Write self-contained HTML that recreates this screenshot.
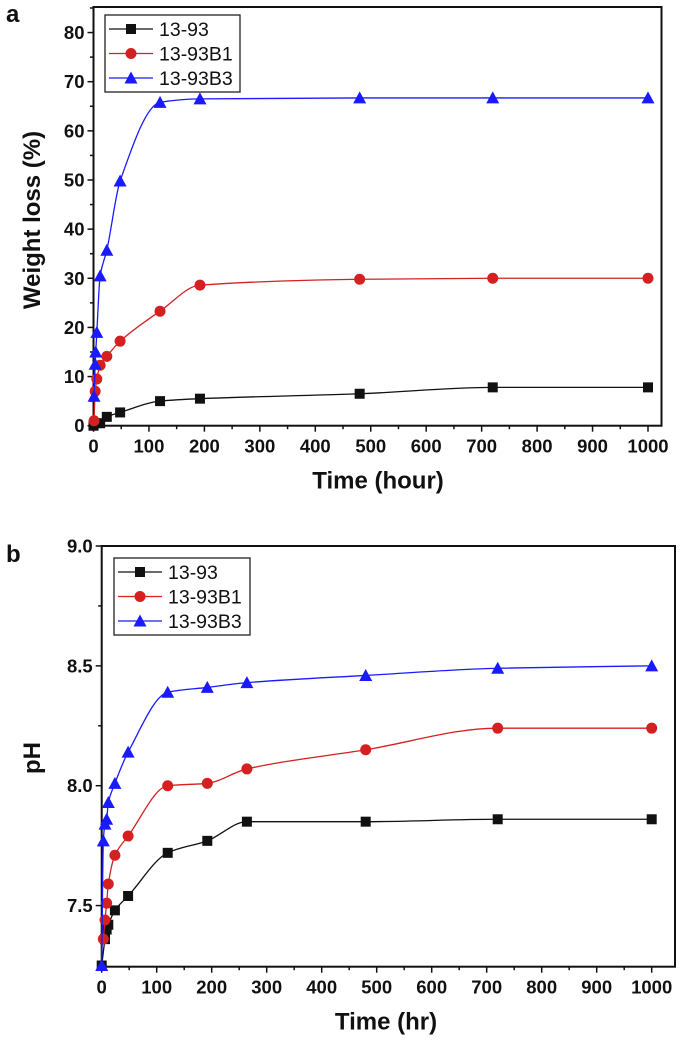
<!DOCTYPE html>
<html><head><meta charset="utf-8"><style>
body{margin:0;background:#fff}
svg{display:block}
text{font-family:"Liberation Sans",Arial,sans-serif;font-weight:bold;fill:#111}
</style></head><body>
<svg id="c" width="686" height="1050"></svg>
<script>
const ticksA=[0,10,20,30,40,50,60,70,80];
const ticksB=[7.5,8.0,8.5,9.0];
const xticks=[0,100,200,300,400,500,600,700,800,900,1000];
const seriesNames=["13-93","13-93B1","13-93B3"];
const colors=["#111","#d42020","#1a1aff"];
const aX0=[0,3,12,24,48,120,192,480,720,1000];
const aY0=[0,0.5,0.5,1.8,2.7,5.0,5.5,6.5,7.8,7.8];
const aX1=[1,3,6,12,24,48,120,192,480,720,1000];
const aY1=[1,7,9.5,12.3,14.1,17.2,23.3,28.6,29.8,30,30];
const aX2=[1,3,4,6,12,24,48,120,192,480,720,1000];
const aY2=[6,12.5,15,19,30.5,35.7,49.8,65.8,66.5,66.7,66.7,66.7];
const bX0=[0,6,9,12,24,48,120,192,264,480,720,1000];
const bY0=[7.25,7.36,7.4,7.42,7.48,7.54,7.72,7.77,7.85,7.85,7.86,7.86];
const bX1=[3,6,9,12,24,48,120,192,264,480,720,1000];
const bY1=[7.36,7.44,7.51,7.59,7.71,7.79,8.0,8.01,8.07,8.15,8.24,8.24];
const bX2=[0,3,6,9,12,24,48,120,192,264,480,720,1000];
const bY2=[7.25,7.77,7.84,7.86,7.93,8.01,8.14,8.39,8.41,8.43,8.46,8.49,8.50];

const svg=document.getElementById('c');const NS="http://www.w3.org/2000/svg";
function mk(t,a,p){const e=document.createElementNS(NS,t);for(const k in a)e.setAttribute(k,a[k]);(p||svg).appendChild(e);return e;}
function txt(s,x,y,size,anchor,p){const e=mk('text',{x:x,y:y,'font-size':size,'text-anchor':anchor||'middle'},p);e.textContent=s;return e;}
function monotonePath(pts){
  const n=pts.length;const d=[],m=[];
  for(let i=0;i<n-1;i++){const dx=pts[i+1][0]-pts[i][0];d.push(dx===0?0:(pts[i+1][1]-pts[i][1])/dx);}
  m[0]=d[0];m[n-1]=d[n-2];
  for(let i=1;i<n-1;i++){m[i]=(d[i-1]*d[i]<=0)?0:2/(1/d[i-1]+1/d[i]);}
  let p='M'+pts[0][0]+','+pts[0][1];
  for(let i=0;i<n-1;i++){const h=(pts[i+1][0]-pts[i][0])/3;
    p+=' C'+(pts[i][0]+h)+','+(pts[i][1]+m[i]*h)+' '+(pts[i+1][0]-h)+','+(pts[i+1][1]-m[i+1]*h)+' '+pts[i+1][0]+','+pts[i+1][1];}
  return p;
}
function panel(cfg){
  const g=mk('g',{});
  
  
  const X=v=>cfg.l+(v-cfg.xmin)/(cfg.xmax-cfg.xmin)*(cfg.x1000-cfg.l);
  const Y=v=>cfg.b-(v-cfg.ymin)/(cfg.ymax-cfg.ymin)*(cfg.b-cfg.t);
  const fr=mk('rect',{x:cfg.l,y:cfg.t,width:cfg.r-cfg.l,height:cfg.b-cfg.t,fill:'none',stroke:'#111','stroke-width':2},g);
  
  xticks.forEach((v,i)=>{const x=X(v);mk('line',{x1:x,x2:x,y1:cfg.b,y2:cfg.b+6,stroke:'#111','stroke-width':1.5},g);
    const xm=X(v+50);if(v<1000)mk('line',{x1:xm,x2:xm,y1:cfg.b,y2:cfg.b+3.5,stroke:'#111','stroke-width':1.5},g);
    const t=txt(String(v),x,cfg.b+27,18.5,'middle',g);});
  cfg.yt.forEach(v=>{const y=Y(v);mk('line',{x1:cfg.l-6,x2:cfg.l,y1:y,y2:y,stroke:'#111','stroke-width':1.5},g);
    const t=txt(cfg.fmt(v),cfg.l-9,y+6.5,18.5,'end',g);});
  cfg.minor.forEach(v=>{const y=Y(v);mk('line',{x1:cfg.l-3.5,x2:cfg.l,y1:y,y2:y,stroke:'#111','stroke-width':1.5},g);});
  const xt=txt(cfg.xlabel,cfg.xlx,cfg.b+63,24,'middle',g);
  const yt=txt(cfg.ylabel,0,0,24,'middle',g);yt.setAttribute('transform','translate('+cfg.ylx+','+cfg.yly+') rotate(-90)');
  
  const pl=txt(cfg.letter,cfg.letx,cfg.lety,24,'start',g);
  cfg.data.forEach((d,si)=>{
    const xs=d[0],ys=d[1];const c=colors[si];
    const pts=xs.map((x,i)=>[X(x),Y(ys[i])]);
    const ln=mk('path',{d:monotonePath(pts),fill:'none',stroke:c,'stroke-width':1.3},g);
    
    pts.forEach(q=>{const m=marker(si,q[0],q[1],g);});
  });
  const lg=mk('g',{},g);
  mk('rect',{x:cfg.lg[0],y:cfg.lg[1],width:cfg.lg[2],height:cfg.lg[3],fill:'#fff',stroke:'#222','stroke-width':1.3},lg);
  seriesNames.forEach((n,i)=>{const y=cfg.lg[1]+14+i*24.5;const e=mk('g',{},lg);
    mk('line',{x1:cfg.lg[0]+4,x2:cfg.lg[0]+48,y1:y,y2:y,stroke:colors[i],'stroke-width':1.3},e);
    marker(i,cfg.lg[0]+26,y,e);
    const t=mk('text',{x:cfg.lg[0]+54,y:y+7,'font-size':19.5,'text-anchor':'start'},e);t.style.fontWeight='normal';t.textContent=n;});
}
function marker(si,x,y,p){
  if(si===0)return mk('rect',{x:x-5,y:y-5,width:10,height:10,fill:colors[0]},p);
  if(si===1)return mk('circle',{cx:x,cy:y,r:5.5,fill:colors[1]},p);
  return mk('polygon',{points:(x-6.5)+','+(y+5.5)+' '+(x+6.5)+','+(y+5.5)+' '+x+','+(y-6.5),fill:colors[2]},p);
}
panel({name:'panel-a-weight-loss',l:93.5,r:661.5,t:7,b:425.7,x1000:648,xmin:0,xmax:1000,ymin:0,ymax:85.2,
  yt:ticksA,minor:[5,15,25,35,45,55,65,75,85].filter(v=>v<85.2),fmt:v=>String(v),
  xlabel:'Time (hour)',xlx:378,ylabel:'Weight loss (%)',ylx:40,yly:220,letter:'a',letx:6,lety:22,
  lg:[105,15,135,77],data:[[aX0,aY0],[aX1,aY1],[aX2,aY2]]});
panel({name:'panel-b-ph',l:101.7,r:675,t:546,b:966.7,x1000:651.7,xmin:0,xmax:1000,ymin:7.245,ymax:9.0,
  yt:ticksB,minor:[7.75,8.25,8.75],fmt:v=>v.toFixed(1),
  xlabel:'Time (hr)',xlx:386,ylabel:'pH',ylx:40,yly:758,letter:'b',letx:6,lety:562,
  lg:[114,558,136,77],data:[[bX0,bY0],[bX1,bY1],[bX2,bY2]]});
</script>
</body></html>
